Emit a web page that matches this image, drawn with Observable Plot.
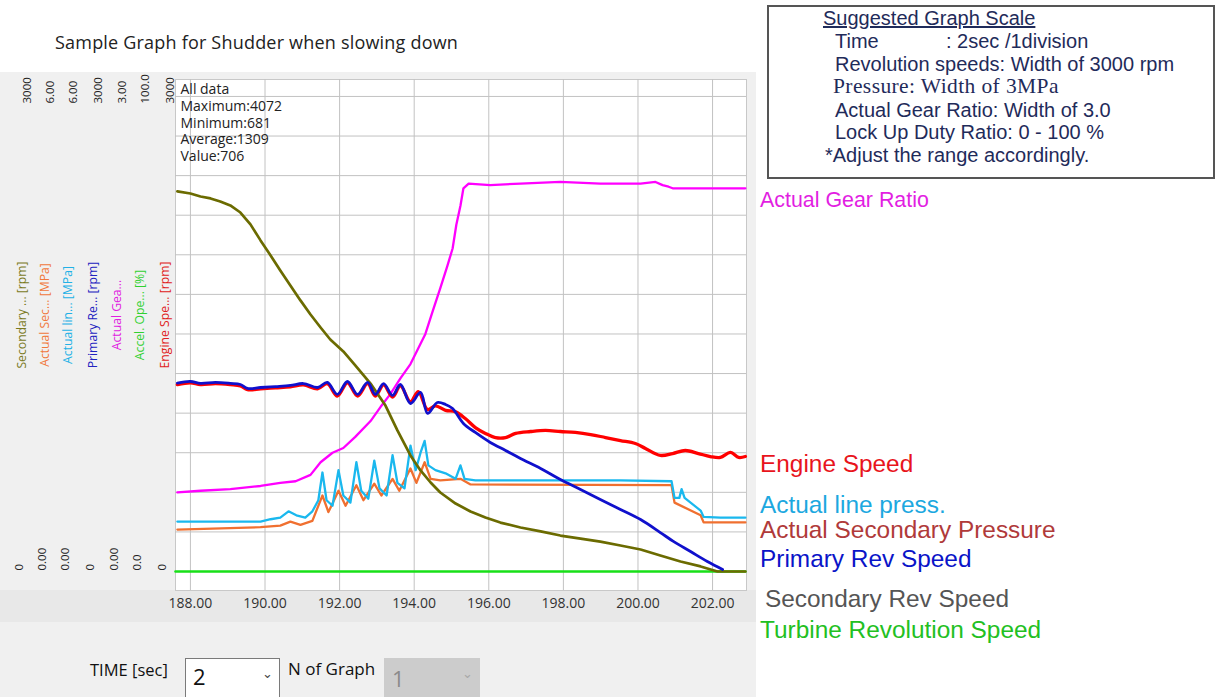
<!DOCTYPE html>
<html>
<head>
<meta charset="utf-8">
<script src="https://cdn.jsdelivr.net/npm/d3@7"></script>
<script src="https://cdn.jsdelivr.net/npm/@observablehq/plot@0.6"></script>
<style>
  html, body { margin: 0; padding: 0; }
  body { width: 1219px; height: 697px; position: relative; overflow: hidden; background: #ffffff; font-family: "Open Sans", "Noto Sans", sans-serif; }
  .abs { position: absolute; white-space: nowrap; }
  #panel { left: 0; top: 72px; width: 756px; height: 625px; background: #f0f0f0; }
  #xband { left: 0; top: 590px; width: 756px; height: 32px; background: #e8e8e8; }
  #chart { left: 0; top: 0; }
  #title { left: 55px; top: 30px; font-size: 18px; letter-spacing: 0.2px; color: #222; }
  #scalebox { left: 767px; top: 5px; width: 444px; height: 170px; border: 2px solid #555; background: #fff; }
  .bx { position: absolute; white-space: nowrap; font-family: "Liberation Sans", Arial, sans-serif; font-size: 20px; line-height: 20px; color: #1f2b5a; }
  .lab { position: absolute; white-space: nowrap; font-family: "Liberation Sans", Arial, sans-serif; font-size: 24.4px; line-height: 24px; }
  .ctl { position: absolute; white-space: nowrap; font-size: 16.5px; color: #111; }
  .sel { position: absolute; box-sizing: border-box; }
</style>
</head>
<body>
<div id="panel" class="abs"></div>
<div id="xband" class="abs"></div>
<div id="chart" class="abs"></div>
<div id="title" class="abs">Sample Graph for Shudder when slowing down</div>

<div id="scalebox" class="abs"></div>
<div class="bx" style="left:823px; top:8px; text-decoration: underline;">Suggested Graph Scale</div>
<div class="bx" style="left:835px; top:31px;">Time</div>
<div class="bx" style="left:946px; top:31px;">: 2sec /1division</div>
<div class="bx" style="left:835px; top:54px;">Revolution speeds: Width of 3000 rpm</div>
<div class="bx" style="left:833px; top:76px; font-family: 'Liberation Serif', serif; font-size: 21.5px; letter-spacing: 0.4px;">Pressure: Width of 3MPa</div>
<div class="bx" style="left:835px; top:100px;">Actual Gear Ratio: Width of 3.0</div>
<div class="bx" style="left:835px; top:122px;">Lock Up Duty Ratio: 0 - 100 %</div>
<div class="bx" style="left:825px; top:145px;">*Adjust the range accordingly.</div>

<div class="lab" style="left:760px; top:190px; font-size:21.4px; line-height:21px; color:#e21ee2;">Actual Gear Ratio</div>
<div class="lab" style="left:760px; top:452px; color:#e8141c;">Engine Speed</div>
<div class="lab" style="left:760px; top:493px; color:#1ca8e0;">Actual line press.</div>
<div class="lab" style="left:760px; top:518px; color:#b03a3a;">Actual Secondary Pressure</div>
<div class="lab" style="left:760px; top:547px; color:#0a14c8;">Primary Rev Speed</div>
<div class="lab" style="left:765px; top:587px; color:#555555;">Secondary Rev Speed</div>
<div class="lab" style="left:760px; top:618px; color:#22c022;">Turbine Revolution Speed</div>

<div class="ctl" style="left:90px; top:658px;">TIME [sec]</div>
<div class="sel" style="left:185px; top:658px; width:95px; height:45px; background:#fff; border:1px solid #7a7a7a;"></div>
<div class="ctl" style="left:193px; top:661px; font-size:22px;">2</div>
<div class="ctl" style="left:262px; top:664px; font-size:13px; color:#444;">&#8964;</div>
<div class="ctl" style="left:288px; top:657px; font-size:17px;">N of Graph</div>
<div class="sel" style="left:384px; top:658px; width:96px; height:45px; background:#cccccc;"></div>
<div class="ctl" style="left:392px; top:663px; font-size:22px; color:#8a8a8a;">1</div>
<div class="ctl" style="left:462px; top:664px; font-size:13px; color:#a8a8a8;">&#8964;</div>

<script>
// ---------- data (time in sec, values in native units) ----------
const timeTicks = [188, 190, 192, 194, 196, 198, 200, 202];
const rpmGrid = [250, 500, 750, 1000, 1250, 1500, 1750, 2000, 2250, 2500, 2750, 3000];

const axisTopLabels = ["3000", "6.00", "6.00", "3000", "3.00", "100.0", "3000"];
const axisBottomLabels = ["0", "0.00", "0.00", "0", "0.00", "0.0", "0"];
const axisNames = ["Secondary ... [rpm]", "Actual Sec... [MPa]", "Actual lin... [MPa]", "Primary Re... [rpm]", "Actual Gea...", "Accel. Ope... [%]", "Engine Spe... [rpm]"];
const axisColors = ["#7a7a1e", "#f0783c", "#22b0e6", "#2222c0", "#e020e0", "#30d030", "#e02020"];

const infoLines = ["All data", "Maximum:4072", "Minimum:681", "Average:1309", "Value:706"];

// Engine speed [rpm]
const engineSpeed = [
  [187.65, 1180], [188.00, 1192], [188.27, 1180], [188.67, 1186], [189.07, 1180], [189.34, 1172],
  [189.53, 1148], [189.88, 1154], [190.28, 1160], [190.68, 1166], [191.03, 1178], [191.41, 1154],
  [191.67, 1186], [191.94, 1108], [192.21, 1192], [192.48, 1108], [192.75, 1186], [192.96, 1108],
  [193.18, 1178], [193.42, 1102], [193.63, 1172], [193.90, 1072], [194.11, 1136], [194.36, 1022],
  [194.57, 1046], [194.84, 1018], [195.11, 1008], [195.37, 966], [195.64, 909], [195.91, 872],
  [196.18, 846], [196.45, 846], [196.72, 872], [197.12, 884], [197.52, 891], [197.92, 884],
  [198.32, 878], [198.73, 865], [199.13, 846], [199.53, 827], [199.93, 808], [200.20, 777],
  [200.60, 733], [200.93, 745], [201.27, 764], [201.62, 745], [201.94, 726], [202.21, 720],
  [202.48, 752], [202.70, 720], [202.88, 726]
];

// Primary revolution speed [rpm]
const primarySpeed = [
  [187.65, 1190], [188.00, 1200], [188.27, 1188], [188.67, 1194], [189.07, 1188], [189.34, 1181],
  [189.53, 1156], [189.88, 1162], [190.28, 1168], [190.68, 1175], [191.03, 1187], [191.41, 1162],
  [191.67, 1194], [191.94, 1118], [192.21, 1200], [192.48, 1118], [192.75, 1194], [192.96, 1118],
  [193.18, 1187], [193.42, 1112], [193.63, 1181], [193.90, 1061], [194.17, 1131], [194.36, 998],
  [194.62, 1067], [194.84, 1055], [195.03, 1029], [195.32, 935], [195.64, 878], [196.04, 815],
  [196.45, 764], [196.85, 714], [197.39, 651], [197.92, 581], [198.46, 518], [198.99, 455],
  [199.53, 392], [200.07, 328], [200.60, 246], [200.95, 190], [201.41, 126], [201.86, 63],
  [202.27, 13]
];

// Secondary revolution speed [rpm]
const secondarySpeed = [
  [187.65, 2400], [188.00, 2387], [188.27, 2368], [188.54, 2356], [188.80, 2337], [189.07, 2312],
  [189.34, 2267], [189.61, 2192], [189.88, 2091], [190.15, 1996], [190.41, 1901], [190.68, 1806],
  [190.95, 1712], [191.22, 1623], [191.49, 1541], [191.75, 1465], [192.10, 1390], [192.42, 1301],
  [192.83, 1187], [193.23, 1048], [193.55, 891], [193.90, 733], [194.17, 638], [194.44, 562],
  [194.70, 499], [195.11, 429], [195.51, 379], [195.91, 341], [196.31, 309], [196.85, 278],
  [197.39, 253], [197.92, 227], [198.46, 208], [198.99, 189], [199.53, 164], [200.07, 139],
  [200.60, 101], [201.14, 63], [201.68, 32], [202.13, 0], [202.88, 0]
];

// Actual gear ratio [-]
const gearRatio = [
  [187.65, 0.50], [188.27, 0.51], [189.07, 0.52], [189.88, 0.54], [190.41, 0.56], [190.82, 0.57],
  [191.22, 0.61], [191.49, 0.69], [191.81, 0.75], [192.10, 0.78], [192.42, 0.85], [192.83, 0.95],
  [193.10, 1.04], [193.36, 1.12], [193.63, 1.22], [193.90, 1.31], [194.09, 1.40], [194.30, 1.50],
  [194.49, 1.64], [194.70, 1.79], [194.89, 1.93], [195.03, 2.04], [195.13, 2.19], [195.24, 2.31],
  [195.32, 2.42], [195.46, 2.45], [196.04, 2.44], [196.85, 2.45], [197.92, 2.46], [198.99, 2.45],
  [200.07, 2.45], [200.47, 2.46], [200.66, 2.44], [200.82, 2.43], [200.93, 2.42], [202.88, 2.42]
];

// Actual line pressure [MPa]
const linePressure = [
  [187.65, 0.63], [189.88, 0.63], [190.15, 0.66], [190.41, 0.68], [190.63, 0.76], [190.84, 0.71],
  [191.08, 0.68], [191.27, 0.76], [191.43, 0.90], [191.54, 1.25], [191.65, 0.90], [191.81, 0.83],
  [191.97, 1.28], [192.10, 0.96], [192.29, 0.87], [192.45, 1.38], [192.58, 1.02], [192.77, 0.92],
  [192.93, 1.40], [193.07, 1.05], [193.26, 0.96], [193.42, 1.47], [193.55, 1.12], [193.74, 1.05],
  [193.90, 1.59], [194.04, 1.28], [194.17, 1.50], [194.28, 1.65], [194.38, 1.34], [194.57, 1.28],
  [194.84, 1.24], [195.11, 1.17], [195.24, 1.34], [195.35, 1.17], [195.64, 1.15], [196.31, 1.15],
  [197.92, 1.15], [199.53, 1.15], [200.90, 1.14], [200.98, 0.93], [201.11, 0.93], [201.17, 1.04],
  [201.25, 0.93], [201.68, 0.77], [201.76, 0.69], [202.21, 0.68], [202.88, 0.68]
];

// Actual secondary pressure [MPa]
const secondaryPressure = [
  [187.65, 0.53], [189.88, 0.56], [190.41, 0.58], [190.68, 0.63], [190.95, 0.59], [191.27, 0.64],
  [191.54, 0.96], [191.70, 0.75], [191.97, 1.02], [192.16, 0.83], [192.45, 1.09], [192.64, 0.90],
  [192.93, 1.11], [193.12, 0.96], [193.42, 1.17], [193.60, 1.02], [193.90, 1.30], [194.06, 1.12],
  [194.28, 1.38], [194.44, 1.17], [194.70, 1.15], [195.24, 1.17], [195.51, 1.10], [200.90, 1.09],
  [200.98, 0.87], [201.68, 0.71], [201.76, 0.62], [202.88, 0.62]
];

// Accelerator opening [%]
const accelOpening = [[187.60, 0], [202.88, 0]];

// ---------- layout constants ----------
const colOffsets = [-153, -130, -107, -82, -58, -35, -10];
const t = d => d[0];

const axisMarks = [];
axisNames.forEach((name, i) => {
  axisMarks.push(Plot.text([axisTopLabels[i]], {frameAnchor: "top-left", dx: colOffsets[i], dy: 24, rotate: -90, textAnchor: "start", text: d => d, fontSize: 11.5, fill: "#222"}));
  axisMarks.push(Plot.text([axisBottomLabels[i]], {frameAnchor: "bottom-left", dx: colOffsets[i], dy: -20, rotate: -90, textAnchor: "start", text: d => d, fontSize: 11.5, fill: "#222"}));
  axisMarks.push(Plot.text([name], {frameAnchor: "left", dx: colOffsets[i], dy: -20, rotate: -90, textAnchor: "middle", text: d => d, fontSize: 12.2, fill: axisColors[i]}));
});

const chart = Plot.plot({
  width: 1219,
  height: 697,
  marginLeft: 175,
  marginRight: 473,
  marginTop: 79,
  marginBottom: 107,
  x: {domain: [187.6, 202.91], axis: null},
  y: {domain: [-120, 3107], axis: null},
  style: {background: "transparent", fontFamily: "'Open Sans', 'Noto Sans', sans-serif", overflow: "visible"},
  marks: [
    Plot.frame({fill: "white", stroke: "#c8c8c8"}),
    Plot.gridX(timeTicks, {stroke: "#c2c2c2", strokeOpacity: 1}),
    Plot.gridY(rpmGrid, {stroke: "#c2c2c2", strokeOpacity: 1}),
    Plot.axisX(timeTicks, {tickSize: 0, tickPadding: 8, tickFormat: d => d.toFixed(2), fontSize: 14, color: "#333", label: null}),
    Plot.text([infoLines.join("\n")], {frameAnchor: "top-left", dx: 5, dy: 3, textAnchor: "start", lineAnchor: "top", lineHeight: 1.19, fontSize: 14, fill: "#222", text: d => d}),
    ...axisMarks,
    Plot.line(accelOpening, {x: t, y: d => d[1] * 30, stroke: "#18e018", strokeWidth: 2.6}),
    Plot.line(secondaryPressure, {x: t, y: d => d[1] * 500, stroke: "#f07030", strokeWidth: 2.3}),
    Plot.line(linePressure, {x: t, y: d => d[1] * 500, stroke: "#1ab8ee", strokeWidth: 2.3}),
    Plot.line(gearRatio, {x: t, y: d => d[1] * 1000, stroke: "#ff00ff", strokeWidth: 2.3}),
    Plot.line(engineSpeed, {x: t, y: d => d[1], stroke: "#ff0000", strokeWidth: 3.3, curve: "catmull-rom"}),
    Plot.line(secondarySpeed, {x: t, y: d => d[1], stroke: "#6b6b00", strokeWidth: 2.7}),
    Plot.line(primarySpeed, {x: t, y: d => d[1], stroke: "#1010cc", strokeWidth: 2.8, curve: "catmull-rom"})
  ]
});
document.getElementById("chart").appendChild(chart);
</script>
</body>
</html>
